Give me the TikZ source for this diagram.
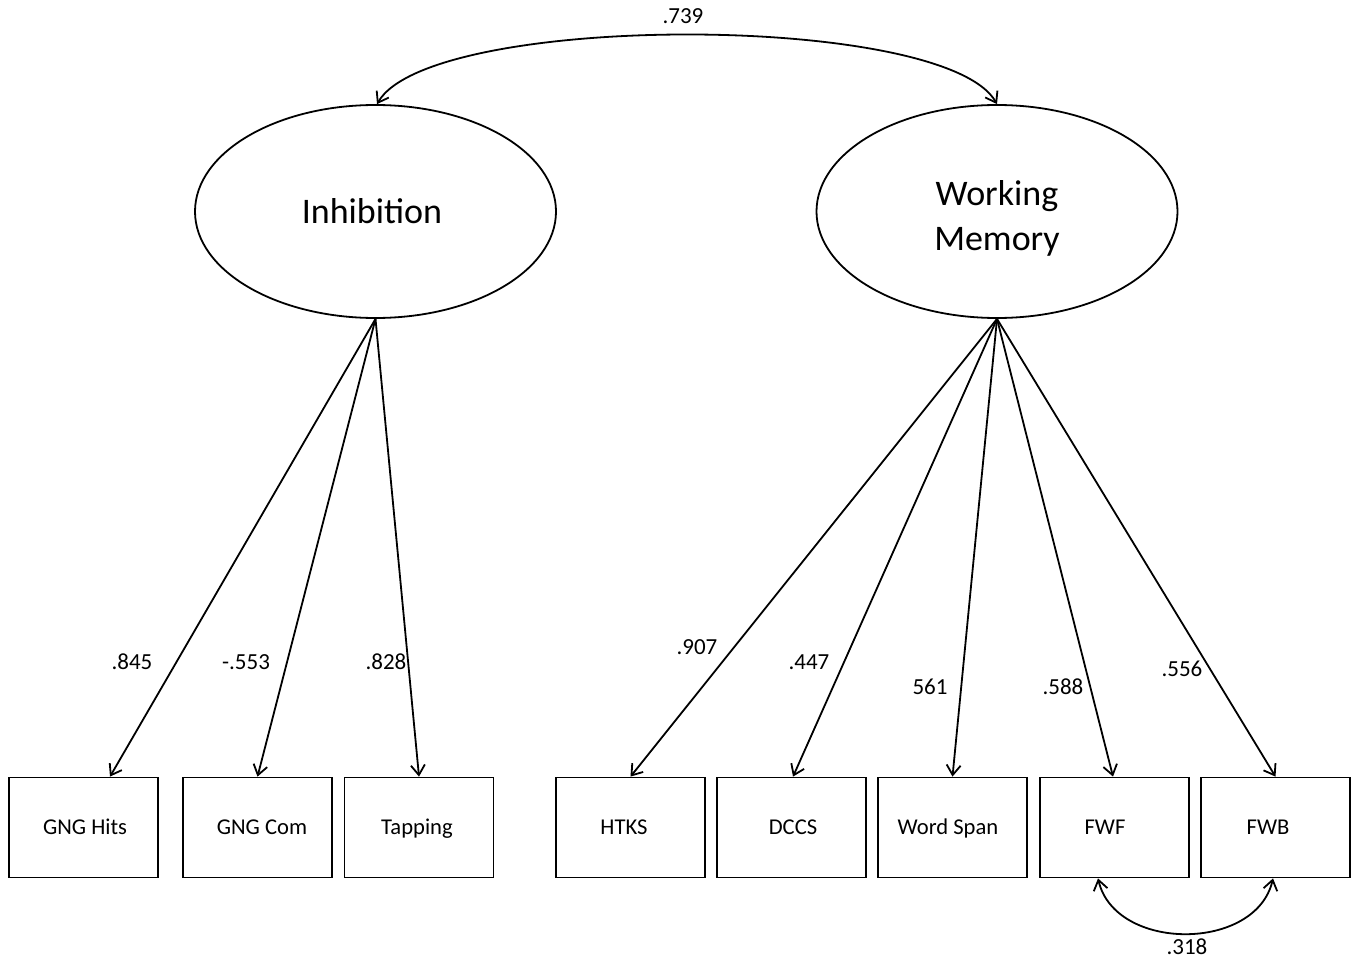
\documentclass[tikz,border=0pt]{standalone}
\usepackage{fontspec}
\setmainfont{Carlito}
\usetikzlibrary{arrows.meta,shapes.geometric}
\begin{document}
\begin{tikzpicture}[x=0.5pt,y=-0.5pt,
  latent/.style={draw,line width=0.9pt,ellipse,minimum width=180.5pt,minimum height=106.5pt,inner sep=0pt,font=\fontsize{18}{22.5}\selectfont,align=center},
  obs/.style={draw,line width=0.9pt,rectangle,minimum width=74.5pt,minimum height=50pt,inner sep=0pt,text height=9pt,text depth=2pt,font=\fontsize{11.3}{13}\selectfont},
  coef/.style={inner sep=0pt,font=\fontsize{11.5}{13}\selectfont},
  path/.style={line width=0.9pt,-{Straight Barb[length=5pt,width=7pt]}},
  cov/.style={line width=0.9pt,{Straight Barb[length=5pt,width=7pt]}-{Straight Barb[length=5pt,width=7pt]}}
]
\useasboundingbox (0,0) rectangle (1359,963);
\node[latent] (inh) at (375.5,211.5) {\hspace*{-3.5pt}Inhibition};
\node[latent] (wm) at (997,211.5) {\rule{0pt}{19pt}Working\\Memory};

\node[obs] (b1) at (83.5,827.5) {\hspace*{1.5pt}GNG Hits};
\node[obs] (b2) at (257.5,827.5) {\hspace*{4.5pt}GNG Com};
\node[obs] (b3) at (419,827.5) {\hspace*{-2pt}Tapping};
\node[obs] (b4) at (630.5,827.5) {\hspace*{-6.5pt}HTKS};
\node[obs] (b5) at (791.5,827.5) {\hspace*{1.5pt}DCCS};
\node[obs] (b6) at (952.5,827.5) {\hspace*{-4.5pt}Word Span};
\node[obs] (b7) at (1114.5,827.5) {\hspace*{-9.5pt}FWF};
\node[obs] (b8) at (1275.5,827.5) {\hspace*{-7.5pt}FWB};

\draw[path] (inh.south) -- ([xshift=13.25pt]b1.north);
\draw[path] (inh.south) -- (b2.north);
\draw[path] (inh.south) -- (b3.north);
\draw[path] (wm.south) -- (b4.north);
\draw[path] (wm.south) -- ([xshift=0.75pt]b5.north);
\draw[path] (wm.south) -- (b6.north);
\draw[path] (wm.south) -- ([xshift=-0.75pt]b7.north);
\draw[path] (wm.south) -- (b8.north);

\draw[cov] ([xshift=0.75pt]inh.north) .. controls (430,12) and (945,12) .. (wm.north);
\draw[cov] ([xshift=-8.25pt]b7.south) .. controls (1115,952) and (1256,952) .. ([xshift=-1.25pt]b8.south);

\node[coef] (c0) at (683,16) {.739};
\node[coef] (c9) at (1187,947) {.318};
\node[coef] (c1) at (132,662) {.845};
\node[coef] (c2) at (246,662) {-.553};
\node[coef] (c3) at (386,662) {.828};
\node[coef] (c4) at (697,647) {.907};
\node[coef] (c5) at (809,662) {.447};
\node[coef] (c6) at (930,687) {561};
\node[coef] (c7) at (1063,687) {.588};
\node[coef] (c8) at (1182,669) {.556};
\end{tikzpicture}
\end{document}
